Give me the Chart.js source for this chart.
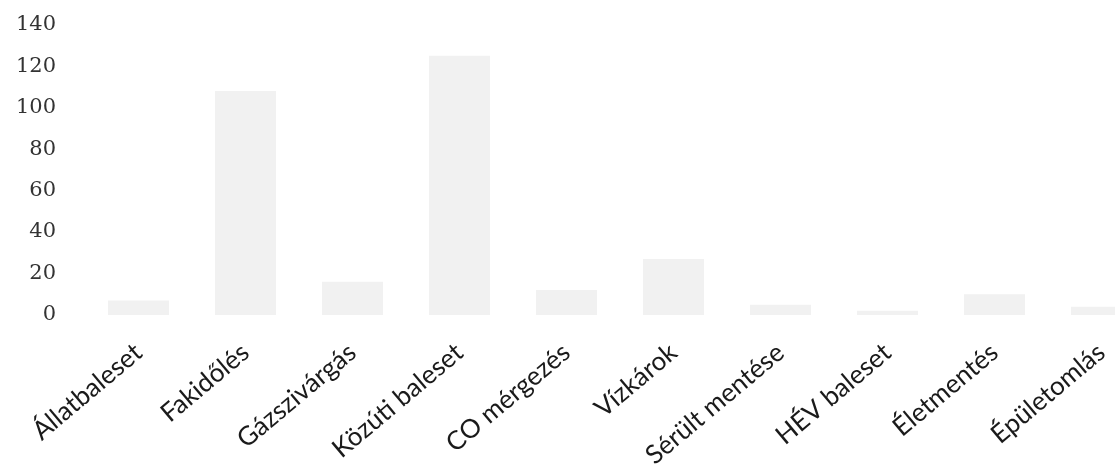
<!DOCTYPE html>
<html>
<head>
<meta charset="utf-8">
<script src="https://cdn.jsdelivr.net/npm/chart.js@4"></script>
<style>
  html, body { margin: 0; padding: 0; background: #fff; overflow: hidden; }
  #wrap { width: 1155px; height: 480px; margin-top: -9px; }
</style>
</head>
<body>
<div id="wrap"><canvas id="chart"></canvas></div>
<script>
const kategoriak = ['Állatbaleset', 'Fakidőlés', 'Gázszivárgás', 'Közúti baleset', 'CO mérgezés',
  'Vízkárok', 'Sérült mentése', 'HÉV baleset', 'Életmentés', 'Épületomlás'];
const esetek = [7, 108, 16, 125, 12, 27, 5, 2, 10, 4];
const yTickek = [0, 20, 40, 60, 80, 100, 120, 140];

const ctx = document.getElementById('chart').getContext('2d');
const chart = new Chart(ctx, {
  type: 'bar',
  data: {
    labels: kategoriak,
    datasets: [{
      data: esetek,
      backgroundColor: '#f1f1f1',
      barPercentage: 0.6,
      categoryPercentage: 0.95
    }]
  },
  options: {
    responsive: true,
    maintainAspectRatio: false,
    animation: false,
    layout: { padding: { top: -16 } },
    plugins: { legend: { display: false }, tooltip: { enabled: false } },
    scales: {
      x: {
        grid: { display: false },
        border: { display: false },
        afterFit: (axis) => { axis.height = 156; },
        ticks: {
          minRotation: 40,
          maxRotation: 40,
          padding: 14,
          color: '#1a1a1a',
          font: { family: 'Lato', size: 26 }
        }
      },
      y: {
        min: 0,
        max: 140,
        afterBuildTicks: (axis) => { axis.ticks = yTickek.map(v => ({ value: v })); },
        afterFit: (axis) => { axis.width = 85; },
        grid: { display: false },
        border: { display: false },
        ticks: {
          padding: 21,
          color: '#333',
          font: { family: 'DejaVu Serif', size: 21 }
        }
      }
    }
  }
});
</script>
</body>
</html>
